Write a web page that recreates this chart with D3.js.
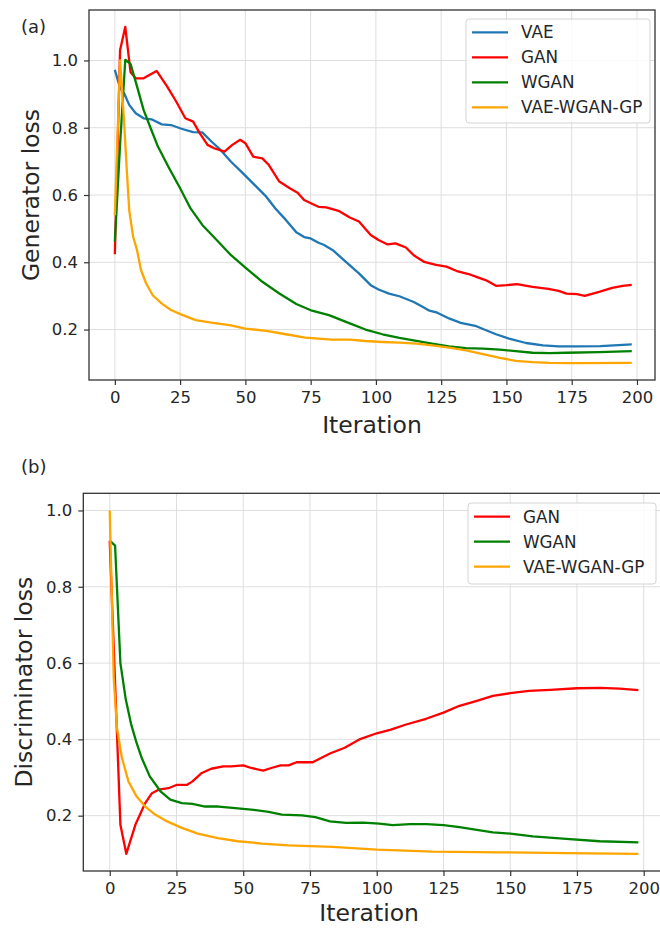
<!DOCTYPE html>
<html>
<head>
<meta charset="utf-8">
<script src="https://cdn.jsdelivr.net/npm/d3@7"></script>
<style>
  html, body { margin: 0; padding: 0; background: #fff; }
  svg { display: block; font-family: "DejaVu Sans", sans-serif; }
</style>
</head>
<body>
<svg id="fig" width="660" height="928"></svg>
<script>
// ---- shared tick labels ----
const xTicks = [0, 25, 50, 75, 100, 125, 150, 175, 200];
const yTicks = [0.2, 0.4, 0.6, 0.8, 1.0];

// ---- (a) generator loss ----
const genVaeIter = [0, 2, 3.5, 5.5, 8, 11, 14, 18, 21.5, 25.5, 30, 33.5, 37, 40.5, 44.5, 49, 53.5, 58, 61.5, 65.5, 69.5, 72.5, 75, 78, 80, 83.5, 88.5, 93.5, 98, 101, 105, 109, 114.5, 118, 120.5, 123.5, 128, 132.5, 138.5, 141.5, 146, 151, 157.5, 164, 170, 177, 186, 198];
const genVaeLoss = [0.972, 0.918, 0.903, 0.868, 0.843, 0.828, 0.825, 0.810, 0.808, 0.797, 0.787, 0.786, 0.759, 0.734, 0.699, 0.665, 0.630, 0.595, 0.560, 0.526, 0.489, 0.475, 0.471, 0.458, 0.452, 0.436, 0.401, 0.367, 0.332, 0.319, 0.307, 0.299, 0.282, 0.267, 0.256, 0.250, 0.233, 0.220, 0.210, 0.200, 0.186, 0.173, 0.160, 0.153, 0.150, 0.150, 0.151, 0.156];

const genGanIter = [0, 2, 4, 6, 8, 11, 16, 20, 23.5, 27, 30, 32.5, 35.5, 38, 42, 45, 48, 50, 53, 56.5, 59, 63, 67, 70, 72.5, 75.5, 78, 81, 86, 90, 93.5, 98, 101, 104.5, 107.5, 111.5, 114.5, 118.5, 123, 127, 131, 135.5, 139, 142, 146, 150, 154, 160, 166, 170, 173, 177, 180, 185.5, 190.5, 194.5, 198];
const genGanLoss = [0.424, 1.03, 1.10, 0.965, 0.947, 0.947, 0.969, 0.923, 0.878, 0.828, 0.818, 0.784, 0.749, 0.739, 0.729, 0.749, 0.764, 0.754, 0.714, 0.709, 0.689, 0.640, 0.620, 0.607, 0.585, 0.574, 0.565, 0.563, 0.552, 0.533, 0.521, 0.481, 0.466, 0.453, 0.456, 0.444, 0.421, 0.401, 0.392, 0.387, 0.374, 0.365, 0.355, 0.347, 0.330, 0.332, 0.335, 0.327, 0.321, 0.315, 0.307, 0.305, 0.300, 0.312, 0.324, 0.330, 0.333];

const genWganIter = [0, 2, 4, 6, 8.5, 11, 13.5, 16.5, 20.5, 25, 29, 33.5, 39, 44.5, 50, 56.5, 63, 69.5, 75.5, 82, 89.5, 96, 102.5, 109, 115.5, 121.5, 128, 134.5, 141, 147.5, 153.5, 160, 166.5, 173, 185.5, 198];
const genWganLoss = [0.461, 0.75, 1.002, 0.99, 0.923, 0.853, 0.803, 0.744, 0.684, 0.620, 0.560, 0.511, 0.466, 0.421, 0.384, 0.342, 0.307, 0.276, 0.256, 0.243, 0.220, 0.200, 0.186, 0.175, 0.166, 0.158, 0.150, 0.145, 0.143, 0.140, 0.136, 0.131, 0.130, 0.131, 0.133, 0.136];

const genGpIter = [0, 2, 3.5, 4.5, 5.5, 7, 8.5, 10, 12, 14.5, 18, 21.5, 26, 31, 37.5, 44, 50, 58, 65.5, 73, 78, 83, 90, 96, 102.5, 109, 115.5, 121.5, 128, 134.5, 141, 147.5, 153.5, 160, 166.5, 175, 198];
const genGpLoss = [0.540, 1.0, 0.823, 0.684, 0.555, 0.476, 0.436, 0.377, 0.337, 0.302, 0.277, 0.258, 0.243, 0.228, 0.220, 0.213, 0.203, 0.196, 0.186, 0.176, 0.173, 0.170, 0.170, 0.166, 0.163, 0.161, 0.158, 0.153, 0.146, 0.138, 0.127, 0.116, 0.107, 0.103, 0.101, 0.100, 0.101];

// ---- (b) discriminator loss ----
const disGanIter = [0, 4, 6.2, 9.6, 13.3, 15.8, 18.3, 22, 25.2, 29, 31, 34.5, 38, 42.5, 45.5, 50, 53, 57.5, 60.5, 64, 67, 70, 76, 82.5, 88, 93.5, 100, 105, 111, 118.5, 125, 131, 137.5, 143.5, 150, 157, 165, 175, 183.5, 191, 198];
const disGanLoss = [0.921, 0.176, 0.100, 0.176, 0.233, 0.259, 0.268, 0.272, 0.281, 0.281, 0.290, 0.312, 0.323, 0.329, 0.329, 0.332, 0.325, 0.318, 0.325, 0.332, 0.332, 0.340, 0.340, 0.363, 0.378, 0.400, 0.416, 0.425, 0.439, 0.454, 0.470, 0.488, 0.501, 0.514, 0.521, 0.527, 0.530, 0.534, 0.535, 0.533, 0.529];

const disWganIter = [0, 2, 4, 6, 8, 10, 12, 15, 19, 22.7, 27, 31, 35.7, 40.7, 47, 53, 59.5, 64.5, 72, 77, 82.5, 88.5, 95, 101, 106, 112.5, 118.5, 125, 131, 137.5, 143.5, 150, 158.5, 171, 183.5, 198];
const disWganLoss = [0.921, 0.908, 0.600, 0.505, 0.440, 0.392, 0.351, 0.303, 0.264, 0.242, 0.233, 0.231, 0.224, 0.224, 0.220, 0.216, 0.210, 0.203, 0.201, 0.196, 0.185, 0.181, 0.182, 0.179, 0.175, 0.178, 0.178, 0.175, 0.170, 0.163, 0.156, 0.153, 0.146, 0.139, 0.133, 0.130];

const disGpIter = [0, 1.5, 2.7, 4.6, 7, 10, 13.3, 17, 21.5, 27, 33, 40.5, 48, 57, 67, 75, 83.5, 100, 121, 146, 171, 198];
const disGpLoss = [1.0, 0.561, 0.430, 0.351, 0.290, 0.251, 0.224, 0.203, 0.185, 0.168, 0.153, 0.141, 0.133, 0.127, 0.122, 0.120, 0.118, 0.111, 0.106, 0.104, 0.102, 0.100];

// ---- series colours ----
const colVae = "#1f77b4", colGan = "#ff0000", colWgan = "#008000", colGp = "#ffa500";

const zip = (xs, ys) => xs.map((x, i) => [x, ys[i]]);

const svg = d3.select("#fig");
const TEXT = "#262626";

function panel(cfg) {
  const x = d3.scaleLinear().domain(cfg.xDomain).range(cfg.xRange);
  const y = d3.scaleLinear().domain(cfg.yDomain).range(cfg.yRange);
  const [x0, x1] = cfg.xRange, [y0, y1] = [cfg.yRange[1], cfg.yRange[0]];
  const g = svg.append("g");

  // grid
  g.append("g").selectAll("line").data(xTicks).join("line")
    .attr("x1", d => x(d)).attr("x2", d => x(d)).attr("y1", y0).attr("y2", y1)
    .attr("stroke", "#dedede").attr("stroke-width", 1);
  g.append("g").selectAll("line").data(yTicks).join("line")
    .attr("x1", x0).attr("x2", x1).attr("y1", d => y(d)).attr("y2", d => y(d))
    .attr("stroke", "#dedede").attr("stroke-width", 1);

  // loss curves
  const line = d3.line().x(d => x(d[0])).y(d => y(d[1]));
  cfg.series.forEach(s => {
    g.append("path").datum(zip(s.iter, s.loss))
      .attr("d", line).attr("fill", "none").attr("stroke", s.color)
      .attr("stroke-width", 2.3).attr("stroke-linejoin", "round").attr("stroke-linecap", "butt");
  });

  // axes
  const xa = g.append("g").attr("transform", `translate(0,${y1})`)
    .call(d3.axisBottom(x).tickValues(xTicks).tickFormat(d3.format("d")).tickSize(5).tickPadding(6));
  const ya = g.append("g").attr("transform", `translate(${x0},0)`)
    .call(d3.axisLeft(y).tickValues(yTicks).tickFormat(d3.format(".1f")).tickSize(5).tickPadding(6));
  [xa, ya].forEach(a => {
    a.select(".domain").remove();
    a.selectAll(".tick line").attr("stroke", "#333").attr("stroke-width", 1.2);
    a.selectAll(".tick text").attr("fill", TEXT)
      .style("font-family", "DejaVu Sans").style("font-size", "16.5px");
  });

  // frame
  g.append("rect").attr("x", x0).attr("y", y0).attr("width", x1 - x0).attr("height", y1 - y0)
    .attr("fill", "none").attr("stroke", "#333").attr("stroke-width", 1.3);

  // axis titles
  g.append("text").attr("x", (x0 + Math.min(x1, 655)) / 2).attr("y", cfg.xLabelY)
    .attr("text-anchor", "middle").attr("fill", TEXT).style("font-size", "23.5px").text("Iteration");
  g.append("text").attr("transform", `translate(${cfg.yLabelX},${(y0 + y1) / 2}) rotate(-90)`)
    .attr("text-anchor", "middle").attr("fill", TEXT).style("font-size", "23.5px").text(cfg.yLabel);

  // panel tag
  g.append("text").attr("x", 21).attr("y", cfg.tagY).attr("fill", TEXT)
    .style("font-size", "18px").text(cfg.tag);

  // legend
  const L = cfg.legend;
  g.append("rect").attr("x", L.x).attr("y", L.y).attr("width", L.w).attr("height", L.h)
    .attr("rx", 3).attr("fill", "#fff").attr("fill-opacity", 0.85)
    .attr("stroke", "#d4d4d4").attr("stroke-width", 1);
  const items = g.append("g").selectAll("g").data(cfg.series).join("g")
    .attr("transform", (d, i) => `translate(${L.x},${L.firstRow + i * 25})`);
  items.append("line").attr("x1", 6).attr("x2", 42).attr("y1", 0).attr("y2", 0)
    .attr("stroke", d => d.color).attr("stroke-width", 2.3);
  items.append("text").attr("x", 55).attr("y", 0).attr("dy", "0.36em")
    .attr("fill", TEXT).style("font-size", "16.8px").text(d => d.name);
}

panel({
  tag: "(a)", tagY: 32.5,
  xDomain: [-9.9, 206.9], xRange: [89, 655],
  yDomain: [0.05, 1.15], yRange: [380, 10],
  xLabelY: 433, yLabelX: 39, yLabel: "Generator loss",
  series: [
    { name: "VAE", color: colVae, iter: genVaeIter, loss: genVaeLoss },
    { name: "GAN", color: colGan, iter: genGanIter, loss: genGanLoss },
    { name: "WGAN", color: colWgan, iter: genWganIter, loss: genWganLoss },
    { name: "VAE-WGAN-GP", color: colGp, iter: genGpIter, loss: genGpLoss }
  ],
  legend: { x: 466, y: 19, w: 184, h: 104, firstRow: 32.3 }
});

panel({
  tag: "(b)", tagY: 472.5,
  xDomain: [-9.9, 207.9], xRange: [83.3, 664.8],
  yDomain: [0.055, 1.045], yRange: [871, 493.3],
  xLabelY: 921, yLabelX: 32, yLabel: "Discriminator loss",
  series: [
    { name: "GAN", color: colGan, iter: disGanIter, loss: disGanLoss },
    { name: "WGAN", color: colWgan, iter: disWganIter, loss: disWganLoss },
    { name: "VAE-WGAN-GP", color: colGp, iter: disGpIter, loss: disGpLoss }
  ],
  legend: { x: 468, y: 503, w: 188, h: 81, firstRow: 516.7 }
});
</script>
</body>
</html>
